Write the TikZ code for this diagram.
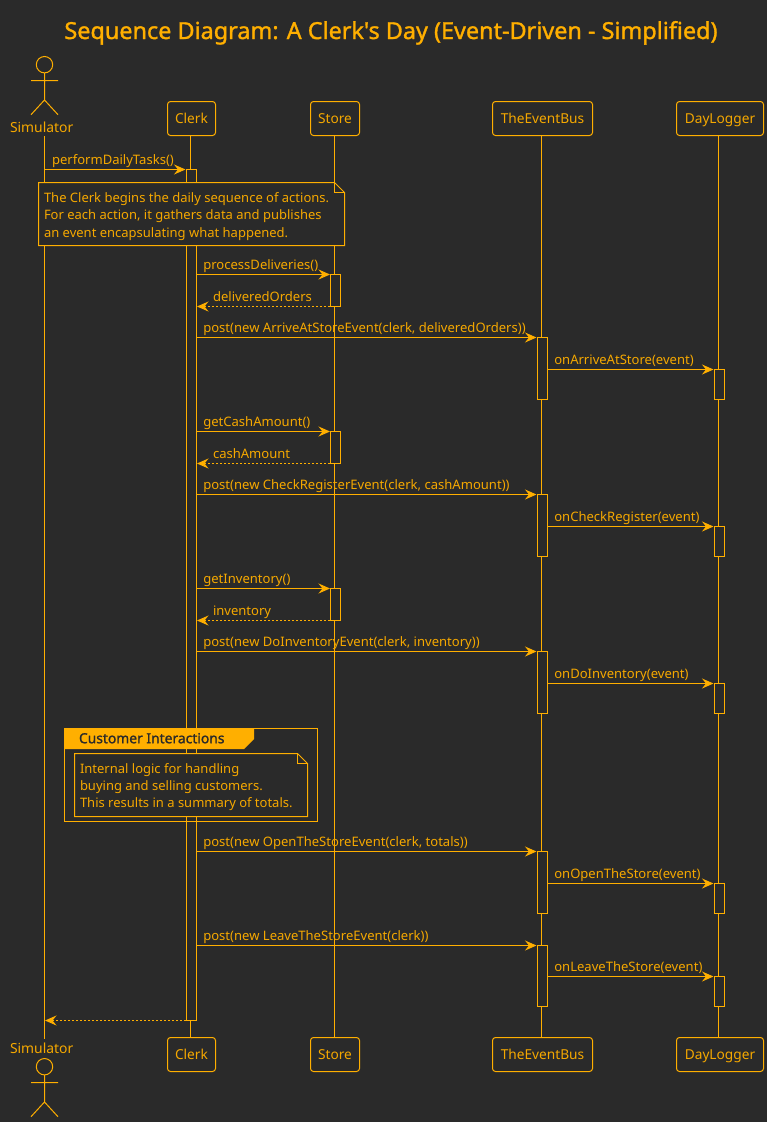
\documentclass[tikz,border=0pt]{standalone}
\usepackage{fontspec}
\setmainfont{Noto Sans}
\newfontfamily\heavyfont[FakeBold=1.3]{Noto Sans}
\usetikzlibrary{arrows.meta}
\definecolor{bgc}{HTML}{2A2A2A}
\definecolor{org}{HTML}{FFAF00}
\definecolor{txt}{HTML}{F5A800}
\tikzset{
  px/.style={x=1pt,y=-1pt},
  ln/.style={draw=org,line width=1pt},
  headbox/.style={ln,rounded corners=3pt,fill=bgc,minimum height=34pt,inner sep=0pt,outer sep=0pt,text=txt,font=\fontsize{13.7}{13.7}\selectfont,text height=9.5pt,text depth=0pt},
  lab/.style={text=txt,font=\fontsize{13}{13}\selectfont,anchor=base west,inner sep=0pt,outer sep=0pt},
  msglab/.style={lab,font=\fontsize{13.05}{13.05}\selectfont},
  actlab/.style={lab,font=\fontsize{13.9}{13.9}\selectfont},
  act/.style={ln,fill=bgc,outer sep=0pt},
  tipa/.style={-{Stealth[length=11.5pt,width=10pt,inset=4pt]}},
  sync/.style={ln,tipa},
  reply/.style={ln,tipa,dash pattern=on 2pt off 2pt},
  lifeline/.style={ln},
  notebox/.style={ln,fill=bgc},
}
% name, style, x1, x2, y, label x, label
\newcommand{\msgline}[7]{%
  \coordinate (#1s) at (#3,#5);
  \coordinate (#1e) at (#4,#5);
  \draw[#2] (#1s) -- (#1e);
  \node[msglab] (#1l) at (#6,#5-5.5) {#7};
}
% name, x centre, y1, y2
\newcommand{\actbar}[4]{%
  \node[act,minimum width=10pt,minimum height=#4pt-#3pt,inner sep=0pt,anchor=north] (#1) at (#2,#3) {};
}
\newcommand{\actorfig}[3]{% name, x, top y
  \begin{scope}[shift={(#2,#3)}]
    \draw[ln,fill=bgc] (0,8.7) circle (8.2pt);
    \draw[ln] (0,17) -- (0,44.5) (-13.5,24.5) -- (13.5,24.5)
      (-13.5,58.7) -- (0,44) -- (13.5,58.7);
  \end{scope}
}
\begin{document}
\begin{tikzpicture}[px]
\useasboundingbox[fill=bgc] (0,0) rectangle (767,1122);
\node[text=org,font=\fontsize{23.4}{23.4}\heavyfont,anchor=base] (title) at (391,39) {Sequence Diagram: A Clerk's Day (Event-Driven - Simplified)};

% heads
\coordinate (simT) at (44.5,136);
\coordinate (simB) at (44.5,1038.5);
\node[headbox,minimum width=48pt] (clerkT) at (191.5,118.5) {Clerk};
\node[headbox,minimum width=49pt] (storeT) at (335,118.5) {Store};
\node[headbox,minimum width=100pt] (busT) at (542.5,118.5) {TheEventBus};
\node[headbox,minimum width=87pt] (logT) at (720,118.5) {DayLogger};
\node[headbox,minimum width=48pt] (clerkB) at (191.5,1054.5) {Clerk};
\node[headbox,minimum width=49pt] (storeB) at (335,1054.5) {Store};
\node[headbox,minimum width=100pt] (busB) at (542.5,1054.5) {TheEventBus};
\node[headbox,minimum width=87pt] (logB) at (720,1054.5) {DayLogger};

% lifelines
\draw[lifeline] (simT) -- (simB);
\coordinate (clerkTs) at (190.5,135.5);
\coordinate (clerkBs) at (190.5,1037.5);
\coordinate (storeTs) at (334.5,135.5);
\coordinate (storeBs) at (334.5,1037.5);
\coordinate (busTs) at (541.5,135.5);
\coordinate (busBs) at (541.5,1037.5);
\coordinate (logTs) at (718.5,135.5);
\coordinate (logBs) at (718.5,1037.5);
\draw[lifeline] (clerkTs) -- (clerkBs);
\draw[lifeline] (storeTs) -- (storeBs);
\draw[lifeline] (busTs) -- (busBs);
\draw[lifeline] (logTs) -- (logBs);

% actors
\actorfig{simA}{44.5}{56}
\node[actlab] (simL) at (10,132) {Simulator};
\node[actlab] (simL2) at (10,1053.3) {Simulator};
\actorfig{simC}{44.5}{1058}

% activations
\actbar{aClerk}{191.5}{169.5}{1020.5}
\actbar{aS1}{335.5}{274.5}{306.5}
\actbar{aB1}{542.5}{337.5}{399.5}
\actbar{aL1}{719.5}{369.5}{399.5}
\actbar{aS2}{335.5}{431.5}{463.5}
\actbar{aB2}{542.5}{494.5}{556.5}
\actbar{aL2}{719.5}{526.5}{556.5}
\actbar{aS3}{335.5}{588.5}{620.5}
\actbar{aB3}{542.5}{651.5}{713.5}
\actbar{aL3}{719.5}{683.5}{713.5}
\actbar{aB4}{542.5}{851.5}{913.5}
\actbar{aL4}{719.5}{883.5}{913.5}
\actbar{aB5}{542.5}{945.5}{1006.5}
\actbar{aL5}{719.5}{976.5}{1006.5}

% messages
\msgline{m1}{sync}{44.5}{185.5}{169.5}{52}{performDailyTasks()}
\msgline{m2}{sync}{196.5}{330}{274.5}{203.3}{processDeliveries()}
\msgline{m3}{reply}{330}{197}{306.5}{213}{deliveredOrders}
\msgline{m4}{sync}{196.5}{536.5}{337.5}{203.3}{post(new ArriveAtStoreEvent(clerk, deliveredOrders))}
\msgline{m5}{sync}{547.5}{713.5}{369.5}{554.3}{onArriveAtStore(event)}
\msgline{m6}{sync}{196.5}{330}{431.5}{203.3}{getCashAmount()}
\msgline{m7}{reply}{330}{197}{463.5}{213}{cashAmount}
\msgline{m8}{sync}{196.5}{536.5}{494.5}{203.3}{post(new CheckRegisterEvent(clerk, cashAmount))}
\msgline{m9}{sync}{547.5}{713.5}{526.5}{554.3}{onCheckRegister(event)}
\msgline{m10}{sync}{196.5}{330}{588.5}{203.3}{getInventory()}
\msgline{m11}{reply}{330}{197}{620.5}{213}{inventory}
\msgline{m12}{sync}{196.5}{536.5}{651.5}{203.3}{post(new DoInventoryEvent(clerk, inventory))}
\msgline{m13}{sync}{547.5}{713.5}{683.5}{554.3}{onDoInventory(event)}
\msgline{m14}{sync}{196.5}{536.5}{851.5}{203.3}{post(new OpenTheStoreEvent(clerk, totals))}
\msgline{m15}{sync}{547.5}{713.5}{883.5}{554.3}{onOpenTheStore(event)}
\msgline{m16}{sync}{196.5}{536.5}{945.5}{203.3}{post(new LeaveTheStoreEvent(clerk))}
\msgline{m17}{sync}{547.5}{713.5}{976.5}{554.3}{onLeaveTheStore(event)}
\coordinate (m18s) at (186,1020.5);
\coordinate (m18e) at (45,1020.5);
\draw[reply] (m18s) -- (m18e);

% note 1
\draw[notebox] (38.5,182.5) -- (334.5,182.5) -- (344.5,192.5) -- (344.5,245.5) -- (38.5,245.5) -- cycle;
\draw[ln] (334.5,182.5) -- (334.5,192.5) -- (344.5,192.5);
\node[lab] (n1a) at (44,202.3) {The Clerk begins the daily sequence of actions.};
\node[lab] (n1b) at (44,219.7) {For each action, it gathers data and publishes};
\node[lab] (n1c) at (44,237.2) {an event encapsulating what happened.};

% group
\draw[ln] (64.5,728.5) rectangle (317.5,821.5);
\fill[org] (64,728) -- (254,728) -- (254,739) -- (244,749) -- (64,749) -- cycle;
\node[lab,text=bgc,font=\fontsize{13.85}{13.85}\heavyfont] (gt) at (79,743.2) {Customer Interactions};

% note 2
\draw[notebox] (74.5,753.5) -- (297.5,753.5) -- (307.5,763.5) -- (307.5,816.5) -- (74.5,816.5) -- cycle;
\draw[ln] (297.5,753.5) -- (297.5,763.5) -- (307.5,763.5);
\node[lab] (n2a) at (80,773) {Internal logic for handling};
\node[lab] (n2b) at (80,790.5) {buying and selling customers.};
\node[lab] (n2c) at (80,807.5) {This results in a summary of totals.};
\end{tikzpicture}
\end{document}
